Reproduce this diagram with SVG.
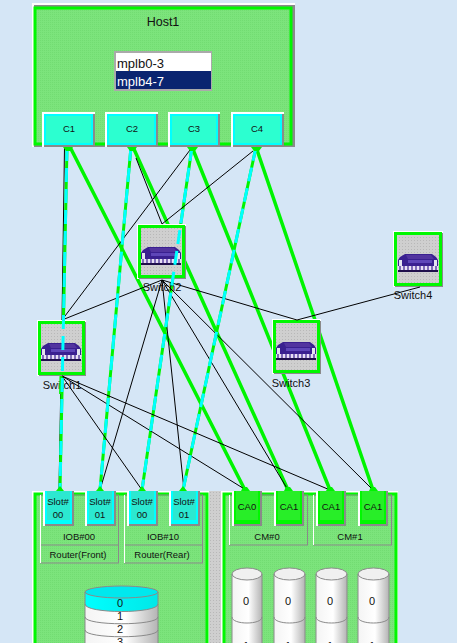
<svg xmlns="http://www.w3.org/2000/svg" xmlns:xlink="http://www.w3.org/1999/xlink" width="457" height="643" viewBox="0 0 457 643">
<style>
text{font-family:"Liberation Sans",Arial,sans-serif;fill:#111}
.t9{font-size:9.5px;text-anchor:middle}
.t10{font-size:11px;text-anchor:middle}
.t11{font-size:11px;text-anchor:middle}
.hi{fill:#fff}.lo{fill:#8a8a8a}
.thin{stroke:#000;stroke-width:1;fill:none}
.thick{stroke:#00f400;stroke-width:3.5;fill:none}
.dg{stroke:#00f400;stroke-width:3;fill:none}
.dc{stroke:#00ffff;stroke-width:3;fill:none;stroke-dasharray:14 7}
.cap{fill:#00f400}
.panel{fill:none;stroke:#fff;stroke-width:1}
.panelb{fill:none;stroke:#8a8a8a;stroke-width:1}
.seg{stroke:#8a8a8a;stroke-width:1}
</style>
<defs>
<pattern id="gr" width="2" height="2" patternUnits="userSpaceOnUse"><rect width="2" height="2" fill="#7ce47c"/><rect width="1" height="1" fill="#72dc72"/></pattern>
<pattern id="gy" width="3" height="3" patternUnits="userSpaceOnUse"><rect width="3" height="3" fill="#cfcfcf"/><rect width="1" height="1" fill="#b8b8b8"/></pattern>
<linearGradient id="cyl" x1="0" x2="1" y1="0" y2="0"><stop offset="0" stop-color="#f4f4f4"/><stop offset=".55" stop-color="#fff"/><stop offset="1" stop-color="#b4b4b4"/></linearGradient>
<linearGradient id="cylc" x1="0" x2="1" y1="0" y2="0"><stop offset="0" stop-color="#00ffff"/><stop offset="1" stop-color="#00e8e8"/></linearGradient>
<symbol id="router" width="40" height="18" viewBox="0 0 40 18" overflow="visible">
<polygon points="0,6 2,3 7,0 34,0 38,3 40,6 40,18 0,18" fill="#3a2090"/>
<polygon points="8,1 33,1 36,5 10,5" fill="#52349f"/>
<rect x="10" y="6" width="24" height="3" fill="#5e46b8"/>
<rect x="1" y="6" width="3" height="6" fill="#e4e4f0"/>
<rect x="36" y="6" width="3" height="6" fill="#e4e4f0"/>
<rect x="0" y="12" width="40" height="4" fill="#e8e0f4"/>
<path d="M2 12v4M6 12v4M10 12v4M14 12v4M18 12v4M22 12v4M26 12v4M30 12v4M34 12v4M38 12v4" stroke="#3a2090" stroke-width="1.2"/>
<rect x="0" y="16" width="40" height="2" fill="#20104c"/>
</symbol>
</defs>
<rect width="457" height="643" fill="#d5e6f6"/>

<g id="connectors-under">
<path class="thin" d="M64.500 147L62 320M61 376L59 490"/>
<path class="dg" d="M67 147L60 490M131 147L100 490M192 147L142 490M256 147L183 490"/>
<path class="thick" d="M70 147L245 490M133 147L288 490M192 147L330 490M256 147L373 490"/>
</g>

<g id="host1">
<rect x="32" y="3" width="263" height="144" class="hi"/>
<rect x="34" y="5" width="261" height="142" class="lo"/>
<rect x="35" y="8" width="256" height="136" fill="url(#gr)" stroke="#00f800" stroke-width="3"/>
<text x="163" y="26" class="t11" style="font-size:12.5px">Host1</text>
<rect x="114" y="51" width="98" height="40" fill="#aaa"/>
<rect x="116" y="53" width="95" height="18" fill="#fff"/>
<rect x="116" y="71" width="95" height="18" fill="#0a2470"/>
<text x="117" y="68" style="font-size:13px">mplb0-3</text>
<text x="117" y="86" style="font-size:13px;fill:#fff">mplb4-7</text>
</g>
<g id="c1"><rect x="42" y="112" width="53" height="35" class="hi"/><rect x="44" y="114" width="51" height="33" class="lo"/><rect x="45" y="115" width="47" height="29" fill="#2cffd0" stroke="#00ffff" stroke-width="2"/><text x="69" y="132" class="t9">C1</text></g>
<g id="c2"><rect x="105" y="112" width="53" height="35" class="hi"/><rect x="107" y="114" width="51" height="33" class="lo"/><rect x="108" y="115" width="47" height="29" fill="#2cffd0" stroke="#00ffff" stroke-width="2"/><text x="132" y="132" class="t9">C2</text></g>
<g id="c3"><rect x="168" y="112" width="52" height="35" class="hi"/><rect x="170" y="114" width="50" height="33" class="lo"/><rect x="171" y="115" width="46" height="29" fill="#2cffd0" stroke="#00ffff" stroke-width="2"/><text x="194" y="132" class="t9">C3</text></g>
<g id="c4"><rect x="231" y="112" width="53" height="35" class="hi"/><rect x="233" y="114" width="51" height="33" class="lo"/><rect x="234" y="115" width="47" height="29" fill="#2cffd0" stroke="#00ffff" stroke-width="2"/><text x="257" y="132" class="t9">C4</text></g>

<g id="switch2"><rect x="137" y="224" width="49" height="55" class="hi"/><rect x="139" y="226" width="47" height="53" class="lo"/><rect x="139.500" y="226.500" width="44" height="50" fill="url(#gy)" stroke="#00f800" stroke-width="3"/><use href="#router" xlink:href="#router" x="141" y="247" width="40" height="18"/><text x="162" y="291" class="t10">Switch2</text></g>
<g id="switch1"><rect x="37" y="320" width="49" height="56" class="hi"/><rect x="39" y="322" width="47" height="54" class="lo"/><rect x="39.500" y="322.500" width="44" height="51" fill="url(#gy)" stroke="#00f800" stroke-width="3"/><use href="#router" xlink:href="#router" x="41" y="343" width="40" height="18"/><text x="62" y="389" class="t10">Switch1</text></g>
<g id="switch3"><rect x="272" y="319" width="49" height="55" class="hi"/><rect x="274" y="321" width="47" height="53" class="lo"/><rect x="274.500" y="321.500" width="44" height="50" fill="url(#gy)" stroke="#00f800" stroke-width="3"/><use href="#router" xlink:href="#router" x="276" y="342" width="40" height="18"/><text x="291" y="387" class="t10">Switch3</text></g>
<g id="switch4"><rect x="393" y="231" width="50" height="56" class="hi"/><rect x="395" y="233" width="48" height="54" class="lo"/><rect x="395.500" y="233.500" width="45" height="51" fill="url(#gy)" stroke="#00f800" stroke-width="3"/><use href="#router" xlink:href="#router" x="398" y="254" width="40" height="18"/><text x="413" y="299" class="t10">Switch4</text></g>

<g id="left-enclosure">
<rect x="32" y="491" width="177" height="152" class="hi"/>
<rect x="35" y="494" width="172" height="152" fill="url(#gr)" stroke="#00f800" stroke-width="3"/>
<rect x="209" y="491" width="12" height="152" fill="url(#gy)"/>
<rect x="40.500" y="495" width="78" height="68" class="panelb"/><path class="panel" d="M40.500 563V495"/>
<path class="panelb" d="M41 545H118"/>
<text x="79" y="540" class="t9">IOB#00</text><text x="78" y="558" class="t9">Router(Front)</text>
<rect x="124.500" y="495" width="78" height="68" class="panelb"/><path class="panel" d="M124.500 563V495"/>
<path class="panelb" d="M125 545H202"/>
<text x="163" y="540" class="t9">IOB#10</text><text x="162" y="558" class="t9">Router(Rear)</text>
<g id="disk-left">
<path d="M85 592V643H158V592Z" fill="url(#cyl)"/>
<path d="M85 592V604C85 614 158 614 158 604V592Z" fill="url(#cylc)"/>
<ellipse cx="121.500" cy="592" rx="36.500" ry="6" fill="#00e8ee" stroke="#8a8a8a"/>
<path d="M85 592V643M158 592V643M85 604C85 614 158 614 158 604M85 617C85 626 158 626 158 617M85 630C85 639 158 639 158 630" class="seg" fill="none"/>
<text x="120" y="607" class="t11">0</text><text x="120" y="620" class="t11">1</text><text x="120" y="633" class="t11">2</text><text x="120" y="646" class="t11">3</text>
</g>
</g>
<g id="slot00a"><rect x="43" y="491" width="31" height="35" class="hi"/><rect x="45" y="491" width="29" height="35" class="lo"/><rect x="45" y="491" width="27" height="33" fill="#00ffff"/><rect x="47" y="491" width="23" height="29" fill="#2ce8d0"/><text x="58" y="505" class="t9">Slot#</text><text x="58" y="518" class="t9">00</text></g>
<g id="slot01a"><rect x="85" y="491" width="31" height="35" class="hi"/><rect x="87" y="491" width="29" height="35" class="lo"/><rect x="87" y="491" width="27" height="33" fill="#00ffff"/><rect x="89" y="491" width="23" height="29" fill="#2ce8d0"/><text x="100" y="505" class="t9">Slot#</text><text x="100" y="518" class="t9">01</text></g>
<g id="slot00b"><rect x="127" y="491" width="31" height="35" class="hi"/><rect x="129" y="491" width="29" height="35" class="lo"/><rect x="129" y="491" width="27" height="33" fill="#00ffff"/><rect x="131" y="491" width="23" height="29" fill="#2ce8d0"/><text x="142" y="505" class="t9">Slot#</text><text x="142" y="518" class="t9">00</text></g>
<g id="slot01b"><rect x="169" y="491" width="31" height="35" class="hi"/><rect x="171" y="491" width="29" height="35" class="lo"/><rect x="171" y="491" width="27" height="33" fill="#00ffff"/><rect x="173" y="491" width="23" height="29" fill="#2ce8d0"/><text x="184" y="505" class="t9">Slot#</text><text x="184" y="518" class="t9">01</text></g>

<g id="right-enclosure">
<rect x="221" y="491" width="177" height="152" class="hi"/>
<rect x="224" y="494" width="172" height="152" fill="url(#gr)" stroke="#00f800" stroke-width="3"/>
<rect x="229.500" y="495" width="78" height="50" class="panelb"/><path class="panel" d="M229.500 545V495"/>
<rect x="313.500" y="495" width="78" height="50" class="panelb"/><path class="panel" d="M313.500 545V495"/>
<text x="267" y="540" class="t9">CM#0</text><text x="350" y="540" class="t9">CM#1</text>
<g id="disk0"><path d="M232 574V643H262V574Z" fill="url(#cyl)"/><ellipse cx="247" cy="574" rx="15" ry="6" fill="#f0f0f0" stroke="#8a8a8a"/><path d="M232 574V643M262 574V643M232 617C232 625 262 625 262 617" class="seg" fill="none"/><text x="246" y="605" class="t11">0</text><text x="246" y="650" class="t11">1</text></g>
<g id="disk1"><path d="M274 574V643H305V574Z" fill="url(#cyl)"/><ellipse cx="289.500" cy="574" rx="15.500" ry="6" fill="#f0f0f0" stroke="#8a8a8a"/><path d="M274 574V643M305 574V643M274 617C274 625 305 625 305 617" class="seg" fill="none"/><text x="288" y="605" class="t11">0</text><text x="288" y="650" class="t11">1</text></g>
<g id="disk2"><path d="M316 574V643H347V574Z" fill="url(#cyl)"/><ellipse cx="331.500" cy="574" rx="15.500" ry="6" fill="#f0f0f0" stroke="#8a8a8a"/><path d="M316 574V643M347 574V643M316 617C316 625 347 625 347 617" class="seg" fill="none"/><text x="330" y="605" class="t11">0</text><text x="330" y="650" class="t11">1</text></g>
<g id="disk3"><path d="M358 574V643H389V574Z" fill="url(#cyl)"/><ellipse cx="373.500" cy="574" rx="15.500" ry="6" fill="#f0f0f0" stroke="#8a8a8a"/><path d="M358 574V643M389 574V643M358 617C358 625 389 625 389 617" class="seg" fill="none"/><text x="372" y="605" class="t11">0</text><text x="372" y="650" class="t11">1</text></g>
</g>
<g id="ca0"><rect x="232" y="491" width="30" height="35" class="hi"/><rect x="234" y="491" width="28" height="35" class="lo"/><rect x="234" y="491" width="26" height="33" fill="#00f800"/><rect x="236" y="491" width="22" height="29" fill="#28ee28"/><text x="247" y="510" class="t9">CA0</text></g>
<g id="ca1a"><rect x="274" y="491" width="30" height="35" class="hi"/><rect x="276" y="491" width="28" height="35" class="lo"/><rect x="276" y="491" width="26" height="33" fill="#00f800"/><rect x="278" y="491" width="22" height="29" fill="#28ee28"/><text x="289" y="510" class="t9">CA1</text></g>
<g id="ca1b"><rect x="316" y="491" width="30" height="35" class="hi"/><rect x="318" y="491" width="28" height="35" class="lo"/><rect x="318" y="491" width="26" height="33" fill="#00f800"/><rect x="320" y="491" width="22" height="29" fill="#28ee28"/><text x="331" y="510" class="t9">CA1</text></g>
<g id="ca1c"><rect x="358" y="491" width="30" height="35" class="hi"/><rect x="360" y="491" width="28" height="35" class="lo"/><rect x="360" y="491" width="26" height="33" fill="#00f800"/><rect x="362" y="491" width="22" height="29" fill="#28ee28"/><text x="373" y="510" class="t9">CA1</text></g>

<g id="connectors">
<path class="thin" d="M136 158L162 224M190 150L62 320M253 151L162 224M162 280L62 320M162 280L297 320M297 320L420 287M62 376L142 490M62 376L246 490M62 376L330 490M162 280L100 490M162 280L184 490M162 280L288 490M162 280L373 490"/>
<path class="dg" d="M61 376L60.600 394"/>
<path class="dc" d="M67 147L60 490M131 147L100 490M192 147L142 490M256 147L183 490"/>
<path class="cap" d="M63 147h10l-3 4h-4zM127 147h10l-3 4h-4zM187 147h11l-3 4h-5zM251 147h11l-3 4h-5zM60 486l4 5h-8zM100 486l4 5h-8zM142 486l4 5h-8zM183 486l4 5h-8zM243 487h4l3 4h-9zM286 487h4l3 4h-9zM328 487h4l3 4h-9zM371 487h4l3 4h-9z"/>
</g>
</svg>
